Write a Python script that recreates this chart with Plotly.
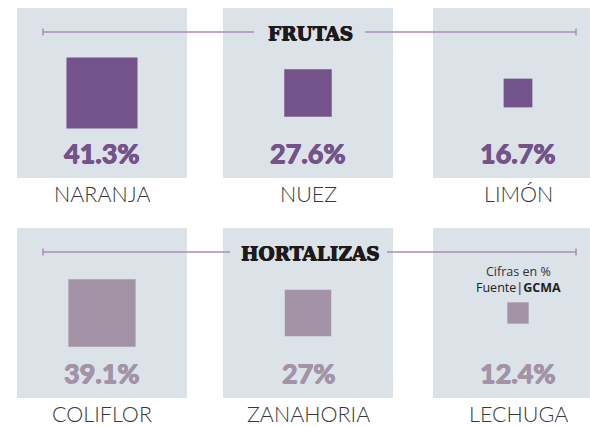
import plotly.graph_objects as go

# datos
frutas = ["NARANJA", "NUEZ", "LIMÓN"]
frutas_pct = [41.3, 27.6, 16.7]
hortalizas = ["COLIFLOR", "ZANAHORIA", "LECHUGA"]
hortalizas_pct = [39.1, 27, 12.4]
titulos = ["FRUTAS", "HORTALIZAS"]

panel_bg = "#dbe2e8"
purple = "#74538b"
mauve = "#a293a6"
line_col = "#a88cba"

col_x = [102, 308, 518]      # panel centres (px)
row_y = [93, 313]            # square centres
px_per_unit = 1.72           # side length per percent point


def thick(c, w=0.5):
    # fake a heavier weight with a tight text-shadow
    return f"{w}px 0 0 {c}, -{w}px 0 0 {c}, 0 {w}px 0 {c}"


fig = go.Figure()
shapes = []
annotations = []

rows = [(frutas, frutas_pct, purple), (hortalizas, hortalizas_pct, mauve)]
gaps = [(254, 365), (230, 387)]

for r, (names, vals, color) in enumerate(rows):
    cy = row_y[r]
    for cx in col_x:
        shapes.append(dict(type="rect", xref="x", yref="y", x0=cx - 85, x1=cx + 85,
                           y0=cy - 85, y1=cy + 85, fillcolor=panel_bg, line_width=0, layer="below"))

    fig.add_trace(go.Scatter(
        x=col_x, y=[cy] * 3, mode="markers",
        marker=dict(symbol="square", size=[v * px_per_unit for v in vals], color=color,
                    opacity=1, line_width=0),
        hoverinfo="skip",
    ))

    for cx, name, v in zip(col_x, names, vals):
        annotations.append(dict(x=cx, y=cy + 59, xref="x", yref="y", text=f"<b>{v:g}%</b>", showarrow=False,
                                font=dict(family="Lato", size=27, weight=900, color=color,
                                          shadow=thick(color, 0.6))))
        annotations.append(dict(x=cx, y=cy + 101, xref="x", yref="y", text=name, showarrow=False,
                                height=26, valign="middle",
                                font=dict(family="Lato", size=21.5, weight=300, color="#383838")))

    # title rule with end ticks
    ly = cy - 61
    g0, g1 = gaps[r]
    for xa, xb in [(43, g0), (g1, 576)]:
        shapes.append(dict(type="line", xref="x", yref="y", x0=xa, x1=xb, y0=ly, y1=ly,
                           line=dict(color=line_col, width=1.5)))
    for xt in (43, 576):
        shapes.append(dict(type="line", xref="x", yref="y", x0=xt, x1=xt, y0=ly - 3.5, y1=ly + 3.5,
                           line=dict(color=line_col, width=1.5)))
    annotations.append(dict(x=310, y=ly + 1.5, xref="x", yref="y", text=titulos[r], showarrow=False,
                            font=dict(family="DejaVu Serif", size=18.5, weight="bold", color="#1e1a1c",
                                      shadow=thick("#1e1a1c", 0.5))))

annotations.append(dict(x=518, y=271, xref="x", yref="y", text="Cifras en %", showarrow=False,
                        font=dict(family="Open Sans", size=12.5, color="#333333")))
annotations.append(dict(x=518, y=287, xref="x", yref="y",
                        text="Fuente<span style='color:#74538b'><b>|</b></span><b>GCMA</b>",
                        showarrow=False, font=dict(family="Open Sans", size=12.5, color="#222222")))

fig.update_layout(
    width=590, height=427,
    margin=dict(l=0, r=0, t=0, b=0),
    paper_bgcolor="white", plot_bgcolor="white",
    showlegend=False,
    shapes=shapes, annotations=annotations,
    xaxis=dict(range=[0, 590], visible=False, fixedrange=True),
    yaxis=dict(range=[427, 0], visible=False, fixedrange=True),
)

fig.write_html("out.html", config={"displayModeBar": False},
               post_script="document.body.style.margin='0';")
